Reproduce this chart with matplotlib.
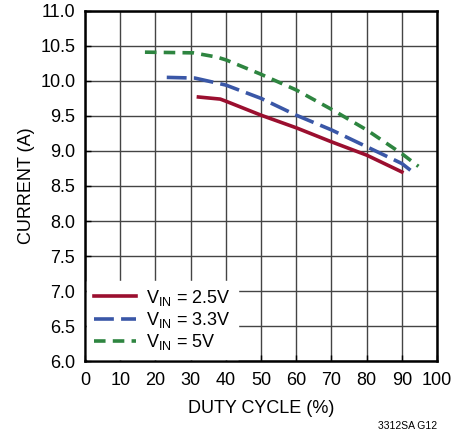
import matplotlib
matplotlib.use("Agg")
import matplotlib.pyplot as plt
from matplotlib import font_manager

names = {f.name for f in font_manager.fontManager.ttflist}
fam = "Liberation Sans Narrow" if "Liberation Sans Narrow" in names else "Liberation Sans"
plt.rcParams['font.family'] = [fam, 'DejaVu Sans']
plt.rcParams['mathtext.fontset'] = 'custom'
plt.rcParams['mathtext.rm'] = fam
plt.rcParams['mathtext.it'] = fam

# data
x_25 = [32.2, 38.4, 40, 50, 60, 70, 80, 90]
y_25 = [9.77, 9.74, 9.71, 9.51, 9.33, 9.13, 8.94, 8.70]
x_33 = [23.2, 31.2, 40, 50, 60, 70, 80, 90, 92.8]
y_33 = [10.05, 10.04, 9.94, 9.75, 9.51, 9.30, 9.06, 8.82, 8.71]
x_5 = [17, 30.8, 37.4, 40, 49.7, 60, 70.5, 80, 90, 94.7]
y_5 = [10.41, 10.40, 10.34, 10.30, 10.10, 9.87, 9.58, 9.30, 8.96, 8.78]
labels = ["V$_{\\rm IN}$ = 2.5V", "V$_{\\rm IN}$ = 3.3V", "V$_{\\rm IN}$ = 5V"]
xticks = list(range(0, 101, 10))
yticks = [6.0, 6.5, 7.0, 7.5, 8.0, 8.5, 9.0, 9.5, 10.0, 10.5, 11.0]

fig = plt.figure(figsize=(4.65, 4.33), dpi=100)
ax = fig.add_axes([0.183, 0.166, 0.757, 0.809])

ax.plot(x_25, y_25, color="#9b0f2f", lw=2.6, label=labels[0])
ax.plot(x_33, y_33, color="#3a57a7", lw=2.6, dashes=(5.5, 2), label=labels[1])
ax.plot(x_5, y_5, color="#2e8540", lw=2.6, dashes=(3.2, 2), label=labels[2])

ax.set_xlim(0, 100)
ax.set_ylim(6, 11)
ax.set_xticks(xticks)
ax.set_yticks(yticks)
ax.set_yticklabels([f"{v:.1f}" for v in yticks])
ax.grid(True, color="#444444", lw=1.0)
ax.set_axisbelow(True)
ax.tick_params(axis="x", direction="in", length=4, width=1, labelsize=13, pad=8)
ax.tick_params(axis="y", direction="in", length=4, width=1, labelsize=13, pad=7)
for s in ax.spines.values():
    s.set_linewidth(1.8)
ax.set_xlabel("DUTY CYCLE (%)", fontsize=13, labelpad=8)
ax.set_ylabel("CURRENT (A)", fontsize=13, labelpad=4)

leg = ax.legend(loc="lower left", frameon=True, fontsize=13, handlelength=2.3,
                borderaxespad=0.1, labelspacing=0.12, handletextpad=0.6,
                fancybox=False, borderpad=0.4)
leg.get_frame().set_edgecolor("white")
leg.get_frame().set_facecolor("white")
leg.get_frame().set_alpha(1)

fig.text(0.94, 0.005, "3312SA G12", fontsize=7.5, ha="right", va="bottom")
fig.savefig("out.png", dpi=100)
